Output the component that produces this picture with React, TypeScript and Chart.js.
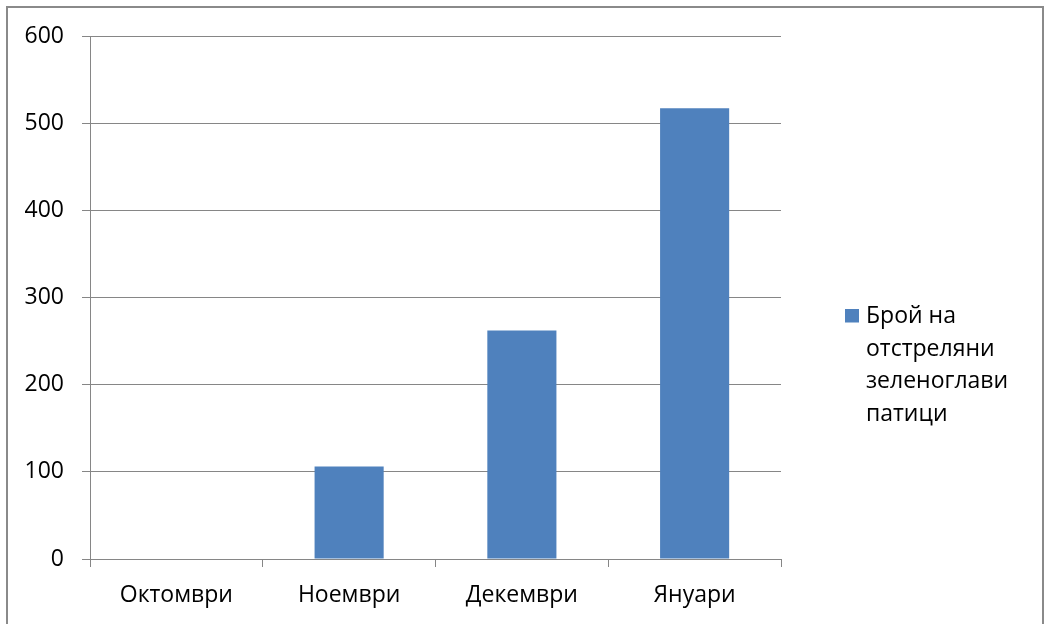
import React, { useEffect, useRef } from "react";
import { Chart, registerables } from "chart.js";

Chart.register(...registerables);

// Months on the category axis
const months: string[] = ["Октомври", "Ноември", "Декември", "Януари"];
// Number of mallards shot per month
const shotCounts: number[] = [0, 106, 262, 517];
// Legend caption, one entry per printed line
const legendLines: string[] = ["Брой на", "отстреляни", "зеленоглави", "патици"];
// Value axis settings
const yMin = 0;
const yMax = 600;
const yStep = 100;

const BAR_COLOR = "#4F81BD";
const AXIS_COLOR = "#868686";
const FONT_FAMILY = "'Open Sans', 'DejaVu Sans', sans-serif";

// Draws the multi-line legend to the right of the plot area
const sideLegend = {
  id: "sideLegend",
  afterDraw(chart: Chart) {
    const ctx = chart.ctx;
    const area = chart.chartArea;
    const x0 = area.right + 64;
    const firstBaseline = 322.7;
    const lineGap = 32.8;
    ctx.save();
    ctx.fillStyle = BAR_COLOR;
    ctx.fillRect(x0, firstBaseline - 13.7, 14, 13.5);
    ctx.fillStyle = "#000";
    ctx.font = `23px ${FONT_FAMILY}`;
    ctx.textBaseline = "alphabetic";
    ctx.textAlign = "left";
    legendLines.forEach((line, i) => {
      ctx.fillText(line, x0 + 21, firstBaseline + i * lineGap);
    });
    ctx.restore();
  },
};

export default function App() {
  const canvasRef = useRef<HTMLCanvasElement | null>(null);

  useEffect(() => {
    if (!canvasRef.current) return;
    const chart = new Chart(canvasRef.current, {
      type: "bar",
      data: {
        labels: months,
        datasets: [
          {
            label: legendLines.join(" "),
            data: shotCounts,
            backgroundColor: BAR_COLOR,
            borderWidth: 0,
            barPercentage: 0.4,
            categoryPercentage: 1,
          },
        ],
      },
      options: {
        responsive: false,
        animation: false,
        maintainAspectRatio: false,
        layout: {
          padding: { top: 36, right: 265, bottom: 0, left: 0 },
        },
        plugins: {
          legend: { display: false },
          tooltip: { enabled: false },
        },
        scales: {
          x: {
            offset: true,
            grid: {
              offset: true,
              drawOnChartArea: false,
              drawTicks: true,
              tickLength: 8,
              color: AXIS_COLOR,
              lineWidth: 1,
            },
            border: { display: true, color: AXIS_COLOR, width: 1 },
            ticks: {
              color: "#000",
              font: { family: FONT_FAMILY, size: 23 },
              padding: 15,
              maxRotation: 0,
            },
            afterFit(scale: any) {
              scale.height = 65;
            },
          },
          y: {
            min: yMin,
            max: yMax,
            grid: {
              drawTicks: true,
              tickLength: 8,
              color: AXIS_COLOR,
              lineWidth: 1,
            },
            border: { display: true, color: AXIS_COLOR, width: 1 },
            ticks: {
              stepSize: yStep,
              color: "#000",
              font: { family: FONT_FAMILY, size: 23 },
              padding: 18,
            },
            afterFit(scale: any) {
              scale.width = 90;
            },
          },
        },
      },
      plugins: [sideLegend],
    });
    return () => chart.destroy();
  }, []);

  return (
    <div
      style={{
        position: "fixed",
        left: 0,
        top: 0,
        width: 1046,
        height: 624,
        overflow: "hidden",
        background: "#fff",
      }}
    >
      <div
        style={{
          position: "absolute",
          left: 6,
          top: 6,
          width: 1034,
          height: 700,
          border: "2px solid #8a8a8a",
          boxSizing: "content-box",
        }}
      />
      <canvas
        ref={canvasRef}
        width={1046}
        height={624}
        style={{ position: "absolute", left: 0, top: 0, width: 1046, height: 624 }}
      />
    </div>
  );
}
